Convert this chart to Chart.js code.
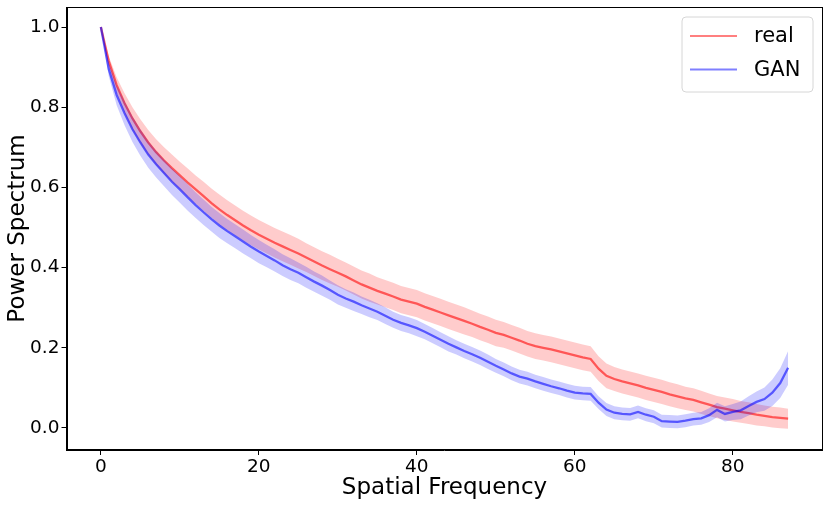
<!DOCTYPE html>
<html>
<head>
<meta charset="utf-8">
<script src="https://cdn.jsdelivr.net/npm/chart.js@4.4.0/dist/chart.umd.min.js"></script>
<style>
  html, body { margin: 0; padding: 0; background: #fff; }
  #wrap { width: 831px; height: 505px; }
</style>
</head>
<body>
<div id="wrap"><canvas id="c" width="831" height="505"></canvas></div>
<script>
// ---- data ----
const seriesNames = ["real", "GAN"];
const xTicks = [0, 20, 40, 60, 80];
const yTicks = [0.0, 0.2, 0.4, 0.6, 0.8, 1.0];
const xTitle = "Spatial Frequency";
const yTitle = "Power Spectrum";

const realMean = [
 1.000, 0.915, 0.855, 0.810, 0.772, 0.740, 0.712, 0.688, 0.667, 0.648,
 0.630, 0.612, 0.595, 0.578, 0.561, 0.545, 0.531, 0.518, 0.505, 0.493,
 0.482, 0.472, 0.462, 0.453, 0.444, 0.435, 0.425, 0.415, 0.405, 0.396,
 0.387, 0.378, 0.368, 0.358, 0.350, 0.342, 0.335, 0.328, 0.320, 0.315,
 0.310, 0.302, 0.295, 0.288, 0.281, 0.274, 0.267, 0.260, 0.252, 0.245,
 0.237, 0.232, 0.225, 0.218, 0.210, 0.204, 0.200, 0.196, 0.191, 0.186,
 0.181, 0.176, 0.172, 0.148, 0.130, 0.122, 0.116, 0.111, 0.106, 0.100,
 0.095, 0.090, 0.084, 0.079, 0.074, 0.070, 0.064, 0.058, 0.052, 0.048,
 0.044, 0.040, 0.037, 0.033, 0.030, 0.027, 0.025, 0.023
];
const realStd = [
 0.000, 0.012, 0.020, 0.025, 0.028, 0.030, 0.031, 0.032, 0.033, 0.034,
 0.034, 0.035, 0.035, 0.036, 0.036, 0.037, 0.037, 0.037, 0.037, 0.037,
 0.037, 0.037, 0.037, 0.037, 0.037, 0.037, 0.036, 0.036, 0.036, 0.036,
 0.035, 0.035, 0.035, 0.035, 0.035, 0.034, 0.034, 0.034, 0.034, 0.034,
 0.034, 0.034, 0.034, 0.034, 0.034, 0.034, 0.034, 0.033, 0.033, 0.033,
 0.033, 0.032, 0.032, 0.032, 0.032, 0.032, 0.032, 0.032, 0.032, 0.032,
 0.032, 0.032, 0.032, 0.031, 0.031, 0.030, 0.030, 0.030, 0.030, 0.030,
 0.030, 0.030, 0.030, 0.030, 0.029, 0.029, 0.029, 0.028, 0.028, 0.028,
 0.028, 0.027, 0.027, 0.027, 0.026, 0.026, 0.026, 0.025
];
const ganMean = [
 1.000, 0.895, 0.830, 0.785, 0.745, 0.712, 0.682, 0.658, 0.636, 0.614,
 0.595, 0.575, 0.556, 0.538, 0.521, 0.505, 0.491, 0.478, 0.465, 0.452,
 0.440, 0.429, 0.418, 0.406, 0.396, 0.387, 0.376, 0.365, 0.355, 0.344,
 0.332, 0.323, 0.315, 0.306, 0.298, 0.290, 0.280, 0.270, 0.262, 0.256,
 0.249, 0.240, 0.230, 0.220, 0.210, 0.201, 0.192, 0.184, 0.175, 0.165,
 0.155, 0.146, 0.136, 0.128, 0.123, 0.116, 0.110, 0.104, 0.099, 0.093,
 0.088, 0.086, 0.085, 0.063, 0.046, 0.038, 0.035, 0.034, 0.040, 0.033,
 0.028, 0.017, 0.016, 0.015, 0.018, 0.022, 0.024, 0.032, 0.045, 0.035,
 0.040, 0.044, 0.055, 0.065, 0.072, 0.088, 0.112, 0.150
];
const ganStd = [
 0.000, 0.018, 0.025, 0.030, 0.032, 0.033, 0.033, 0.033, 0.033, 0.033,
 0.033, 0.033, 0.032, 0.032, 0.031, 0.031, 0.030, 0.030, 0.030, 0.029,
 0.029, 0.028, 0.028, 0.027, 0.027, 0.026, 0.026, 0.025, 0.025, 0.024,
 0.024, 0.023, 0.023, 0.022, 0.022, 0.021, 0.021, 0.020, 0.020, 0.020,
 0.020, 0.019, 0.019, 0.019, 0.019, 0.018, 0.018, 0.018, 0.018, 0.018,
 0.017, 0.017, 0.017, 0.017, 0.017, 0.017, 0.017, 0.017, 0.017, 0.017,
 0.017, 0.017, 0.017, 0.016, 0.016, 0.016, 0.016, 0.016, 0.016, 0.016,
 0.016, 0.016, 0.016, 0.016, 0.016, 0.016, 0.016, 0.017, 0.018, 0.019,
 0.020, 0.022, 0.024, 0.026, 0.029, 0.033, 0.037, 0.042
];

// ---- styles ----
const realLine = "rgba(255,0,0,0.58)";
const realFill = "rgba(255,0,0,0.2)";
const ganLine = "rgba(0,0,255,0.58)";
const ganFill = "rgba(0,0,255,0.2)";
const FONT = "'DejaVu Sans', sans-serif";

const pts = (arr) => arr.map((v, i) => ({ x: i, y: v }));
const upper = (m, s) => m.map((v, i) => ({ x: i, y: v + s[i] }));
const lower = (m, s) => m.map((v, i) => ({ x: i, y: v - s[i] }));

const base = { pointRadius: 0, tension: 0, borderWidth: 0, showLine: true };

const datasets = [
  Object.assign({}, base, { label: "real_upper", data: upper(realMean, realStd), borderColor: "transparent", fill: false, order: 4 }),
  Object.assign({}, base, { label: "real_lower", data: lower(realMean, realStd), borderColor: "transparent", backgroundColor: realFill, fill: "-1", order: 3 }),
  Object.assign({}, base, { label: seriesNames[0], data: pts(realMean), borderColor: realLine, borderWidth: 2.3, fill: false, order: 2 }),
  Object.assign({}, base, { label: "gan_upper", data: upper(ganMean, ganStd), borderColor: "transparent", fill: false, order: 1.5 }),
  Object.assign({}, base, { label: "gan_lower", data: lower(ganMean, ganStd), borderColor: "transparent", backgroundColor: ganFill, fill: "-1", order: 1 }),
  Object.assign({}, base, { label: seriesNames[1], data: pts(ganMean), borderColor: ganLine, borderWidth: 2.3, fill: false, order: 0 })
];

const framePlugin = {
  id: "frameAndLegend",
  afterDraw(chart) {
    const { ctx, chartArea: a } = chart;
    ctx.save();
    ctx.strokeStyle = "#000";
    ctx.lineWidth = 1;
    ctx.strokeRect(Math.round(a.left) + 0.5, Math.round(a.top) + 0.5,
                   Math.round(a.right - a.left) - 1, Math.round(a.bottom - a.top) - 1);
    // legend box (upper right)
    const bx = 682, by = 17, bw = 131, bh = 75, r = 4;
    ctx.beginPath();
    ctx.moveTo(bx + r, by);
    ctx.arcTo(bx + bw, by, bx + bw, by + bh, r);
    ctx.arcTo(bx + bw, by + bh, bx, by + bh, r);
    ctx.arcTo(bx, by + bh, bx, by, r);
    ctx.arcTo(bx, by, bx + bw, by, r);
    ctx.closePath();
    ctx.fillStyle = "rgba(255,255,255,0.8)";
    ctx.fill();
    ctx.strokeStyle = "#d6d6d6";
    ctx.lineWidth = 1;
    ctx.stroke();
    const items = [[seriesNames[0], "rgba(255,0,0,0.5)", 36], [seriesNames[1], "rgba(0,0,255,0.5)", 69.5]];
    ctx.font = "21px " + FONT;
    ctx.textBaseline = "middle";
    ctx.textAlign = "left";
    items.forEach(([name, col, y]) => {
      ctx.beginPath();
      ctx.strokeStyle = col;
      ctx.lineWidth = 2;
      ctx.moveTo(690, y);
      ctx.lineTo(737, y);
      ctx.stroke();
      ctx.fillStyle = "#000";
      ctx.fillText(name, 754, y + 1);
    });
    ctx.restore();
  }
};

new Chart(document.getElementById("c"), {
  type: "scatter",
  data: { datasets },
  options: {
    responsive: false,
    animation: false,
    devicePixelRatio: 1,
    layout: { padding: { top: 7, right: 8.5, left: 0, bottom: 0 } },
    plugins: { legend: { display: false }, tooltip: { enabled: false } },
    scales: {
      x: {
        type: "linear",
        min: -4.35, max: 91.35,
        afterFit(s) { s.height = 55; s.paddingLeft = 0; s.paddingRight = 0; },
        afterBuildTicks(s) { s.ticks = xTicks.map(v => ({ value: v })); },
        grid: { display: true, drawOnChartArea: false, drawTicks: true, tickLength: 5, color: "#000", lineWidth: 1 },
        border: { display: true, color: "#000", width: 1 },
        ticks: { color: "#000", font: { family: FONT, size: 18.5 }, padding: 1, maxRotation: 0, callback: v => String(v) },
        title: { display: true, text: xTitle, color: "#000", font: { family: FONT, size: 23 }, padding: { top: 0, bottom: 3 } }
      },
      y: {
        type: "linear",
        min: -0.055, max: 1.05,
        afterFit(s) { s.width = 66.5; s.paddingTop = 0; s.paddingBottom = 0; },
        afterBuildTicks(s) { s.ticks = yTicks.map(v => ({ value: v })); },
        grid: { display: true, drawOnChartArea: false, drawTicks: true, tickLength: 5, color: "#000", lineWidth: 1 },
        border: { display: true, color: "#000", width: 1 },
        ticks: { color: "#000", font: { family: FONT, size: 18.5 }, padding: 2, callback: v => Number(v).toFixed(1) },
        title: { display: true, text: yTitle, color: "#000", font: { family: FONT, size: 23 }, padding: { top: 4, bottom: 0 } }
      }
    }
  },
  plugins: [framePlugin]
});
</script>
</body>
</html>
